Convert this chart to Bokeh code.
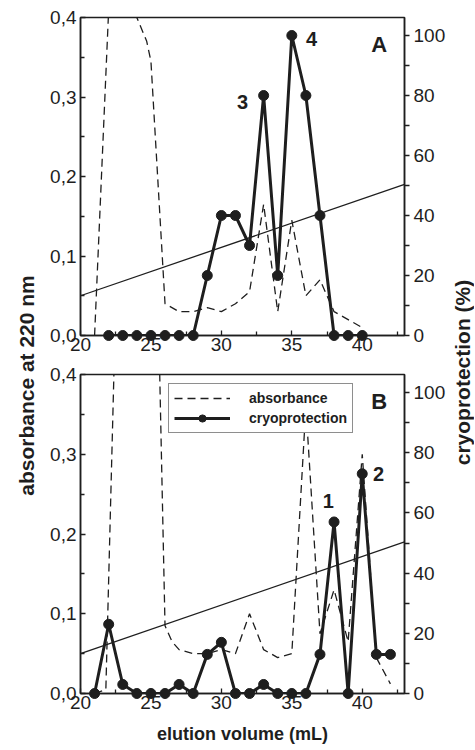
import numpy as np
from bokeh.plotting import figure
from bokeh.models import Range1d, LinearAxis, FixedTicker, Legend, LegendItem, Label
from bokeh.layouts import row, column
from bokeh.embed import file_html
from bokeh.resources import INLINE
from bokeh.core.properties import value

FONT = "Liberation Sans"

# ---------------- data ----------------
x_ticks = [20, 25, 30, 35, 40]
x_minor_ticks = [22.5, 27.5, 32.5, 37.5, 42.5]
abs_ticks = [0.0, 0.1, 0.2, 0.3, 0.4]
abs_tick_labels = ["0,0", "0,1", "0,2", "0,3", "0,4"]
abs_minor_ticks = [0.05, 0.15, 0.25, 0.35]
pct_ticks = [0, 20, 40, 60, 80, 100]
pct_minor_ticks = [10, 30, 50, 70, 90]

gradient_x = [20, 43]
gradient_y = [0.05, 0.19]

# panel A
a_abs_x = [21, 22, 24, 24.7, 25, 26, 27, 28, 29, 30, 31, 32, 33, 34, 35, 36, 37, 38, 39, 40]
a_abs_y = [0.0, 0.41, 0.40, 0.37, 0.345, 0.04, 0.03, 0.03, 0.035, 0.03, 0.04, 0.055,
           0.165, 0.03, 0.145, 0.05, 0.07, 0.03, 0.02, 0.01]
a_cryo_x = [22, 23, 24, 25, 26, 27, 28, 29, 30, 31, 32, 33, 34, 35, 36, 37, 38, 39, 40]
a_cryo_y = [0, 0, 0, 0, 0, 0, 0, 20, 40, 40, 30, 80, 20, 100, 80, 40, 0, 0, 0]
a_peak_labels = ["3", "4"]
a_peak_x = [31.5, 36.4]
a_peak_y = [78, 99]

# panel B
b_abs_x = [21, 21.8, 22.4, 25.6, 26, 26.5, 27, 28, 29, 30, 31, 32, 33, 34, 35, 36,
           37, 38, 39, 40, 41, 42]
b_abs_y = [0.0, 0.005, 0.42, 0.42, 0.085, 0.065, 0.055, 0.05, 0.05, 0.055, 0.05, 0.10,
           0.055, 0.045, 0.05, 0.36, 0.075, 0.13, 0.065, 0.30, 0.045, 0.012]
b_cryo_x = [21, 22, 23, 24, 25, 26, 27, 28, 29, 30, 31, 32, 33, 34, 35, 36, 37, 38,
            39, 40, 41, 42]
b_cryo_y = [0, 23, 3, 0, 0, 0, 3, 0, 13, 17, 0, 0, 3, 0, 0, 0, 13, 57, 0, 73, 13, 13]
b_peak_labels = ["1", "2"]
b_peak_x = [37.6, 41.15]
b_peak_y = [64, 73]

panel_letters = ["A", "B"]

x_label = "elution volume (mL)"
left_label = "absorbance at 220 nm"
right_label = "cryoprotection (%)"
legend_labels = ["absorbance", "cryoprotection"]

INK = "#1e1e1e"


def make_panel(abs_x, abs_y, cryo_x, cryo_y, pk_lab, pk_x, pk_y, letter,
               height, b_top, b_bottom, bottom_panel):
    p = figure(width=406, height=height, x_range=Range1d(20, 43), y_range=Range1d(0, 0.4),
               output_backend="svg", toolbar_location=None,
               min_border_left=38, min_border_right=44,
               min_border_top=b_top, min_border_bottom=b_bottom)
    p.extra_y_ranges = {"pct": Range1d(0, 106)}
    p.xgrid.visible = False
    p.ygrid.visible = False
    p.background_fill_color = "white"
    p.border_fill_color = "white"
    p.outline_line_color = INK
    p.outline_line_width = 1.5

    # axes
    xa = p.xaxis[0]
    xa.ticker = FixedTicker(ticks=x_ticks, minor_ticks=x_minor_ticks)
    ya = p.yaxis[0]
    ya.ticker = FixedTicker(ticks=abs_ticks, minor_ticks=abs_minor_ticks)
    ya.major_label_overrides = {t: l for t, l in zip(abs_ticks, abs_tick_labels)}
    ra = LinearAxis(y_range_name="pct",
                    ticker=FixedTicker(ticks=pct_ticks, minor_ticks=pct_minor_ticks))
    p.add_layout(ra, "right")
    for ax in (xa, ya):
        ax.major_tick_in = 5
        ax.major_tick_out = 0
        ax.minor_tick_in = 4
        ax.minor_tick_out = 0
    xa.major_label_standoff = 2
    ya.major_label_standoff = 4
    ra.major_tick_in = 0
    ra.major_tick_out = 5
    ra.minor_tick_in = 0
    ra.minor_tick_out = 5
    ra.major_label_standoff = 4
    for ax in (xa, ya, ra):
        ax.axis_line_width = 1.5
        ax.axis_line_color = INK
        ax.major_tick_line_color = INK
        ax.minor_tick_line_color = INK
        ax.major_tick_line_width = 1.3
        ax.minor_tick_line_width = 1.3
        ax.major_label_text_font = FONT
        ax.major_label_text_font_size = "19px"
        ax.major_label_text_color = INK
    if bottom_panel:
        xa.axis_label = x_label
        xa.axis_label_text_font = FONT
        xa.axis_label_text_font_style = "bold"
        xa.axis_label_text_font_size = "18px"
        xa.axis_label_standoff = 12
        xa.axis_label_text_color = INK

    # gradient
    p.line(gradient_x, gradient_y, line_color=INK, line_width=1.3)
    # absorbance
    r_abs = p.line(abs_x, abs_y, line_color=INK, line_width=1.3, line_dash="8 5")
    # cryoprotection
    r_cl = p.line(cryo_x, cryo_y, y_range_name="pct", line_color=INK, line_width=3)
    r_cs = p.scatter(cryo_x, cryo_y, y_range_name="pct", size=10, marker="circle",
                     fill_color=INK, line_color=INK, level="overlay")

    p.text(pk_x, pk_y, text=pk_lab, y_range_name="pct", text_font=value(FONT),
           text_font_style="bold", text_font_size="20px", text_align="center",
           text_baseline="middle", text_color=INK)
    p.text([41.2], [97], text=[letter], y_range_name="pct", text_font=value(FONT),
           text_font_style="bold", text_font_size="22px", text_align="center",
           text_baseline="middle", text_color=INK)

    if bottom_panel:
        leg = Legend(items=[LegendItem(label=legend_labels[0], renderers=[r_abs]),
                            LegendItem(label=legend_labels[1], renderers=[r_cl, r_cs])],
                     location=(88, 260))
        leg.border_line_color = INK
        leg.border_line_width = 1.5
        leg.background_fill_alpha = 1
        leg.label_text_font = FONT
        leg.label_text_font_style = "bold"
        leg.label_text_font_size = "14px"
        leg.label_text_color = INK
        leg.glyph_width = 56
        leg.glyph_height = 18
        leg.label_height = 18
        leg.label_standoff = 19
        leg.label_width = 97
        leg.padding = 5
        leg.spacing = 2
        leg.margin = 0
        p.add_layout(leg)
    return p


TOP_H = 360
BOT_H = 388
top = make_panel(a_abs_x, a_abs_y, a_cryo_x, a_cryo_y, a_peak_labels, a_peak_x, a_peak_y,
                 panel_letters[0], TOP_H, 17, TOP_H - 335, False)
bottom = make_panel(b_abs_x, b_abs_y, b_cryo_x, b_cryo_y, b_peak_labels, b_peak_x, b_peak_y,
                    panel_letters[1], BOT_H, 374 - TOP_H, TOP_H + BOT_H - 693, True)

TOTAL_H = TOP_H + BOT_H


def label_fig(width, text, cx, cy_page):
    f = figure(width=width, height=TOTAL_H, x_range=Range1d(0, width),
               y_range=Range1d(0, TOTAL_H), output_backend="svg", toolbar_location=None,
               min_border=0, min_border_left=0, min_border_right=0,
               min_border_top=0, min_border_bottom=0)
    f.axis.visible = False
    f.grid.visible = False
    f.outline_line_color = None
    f.background_fill_color = "white"
    f.border_fill_color = "white"
    f.add_layout(Label(x=cx, y=TOTAL_H - cy_page, text=text, angle=90,
                       angle_units="deg", text_align="center", text_baseline="middle",
                       text_font=FONT, text_font_style="bold", text_font_size="21px",
                       text_color=INK))
    return f


left_fig = label_fig(42, left_label, 26, 385)
right_fig = label_fig(26, right_label, 14, 372)

layout = row(left_fig, column(top, bottom), right_fig)

open("out.html", "w").write(file_html(layout, INLINE))
